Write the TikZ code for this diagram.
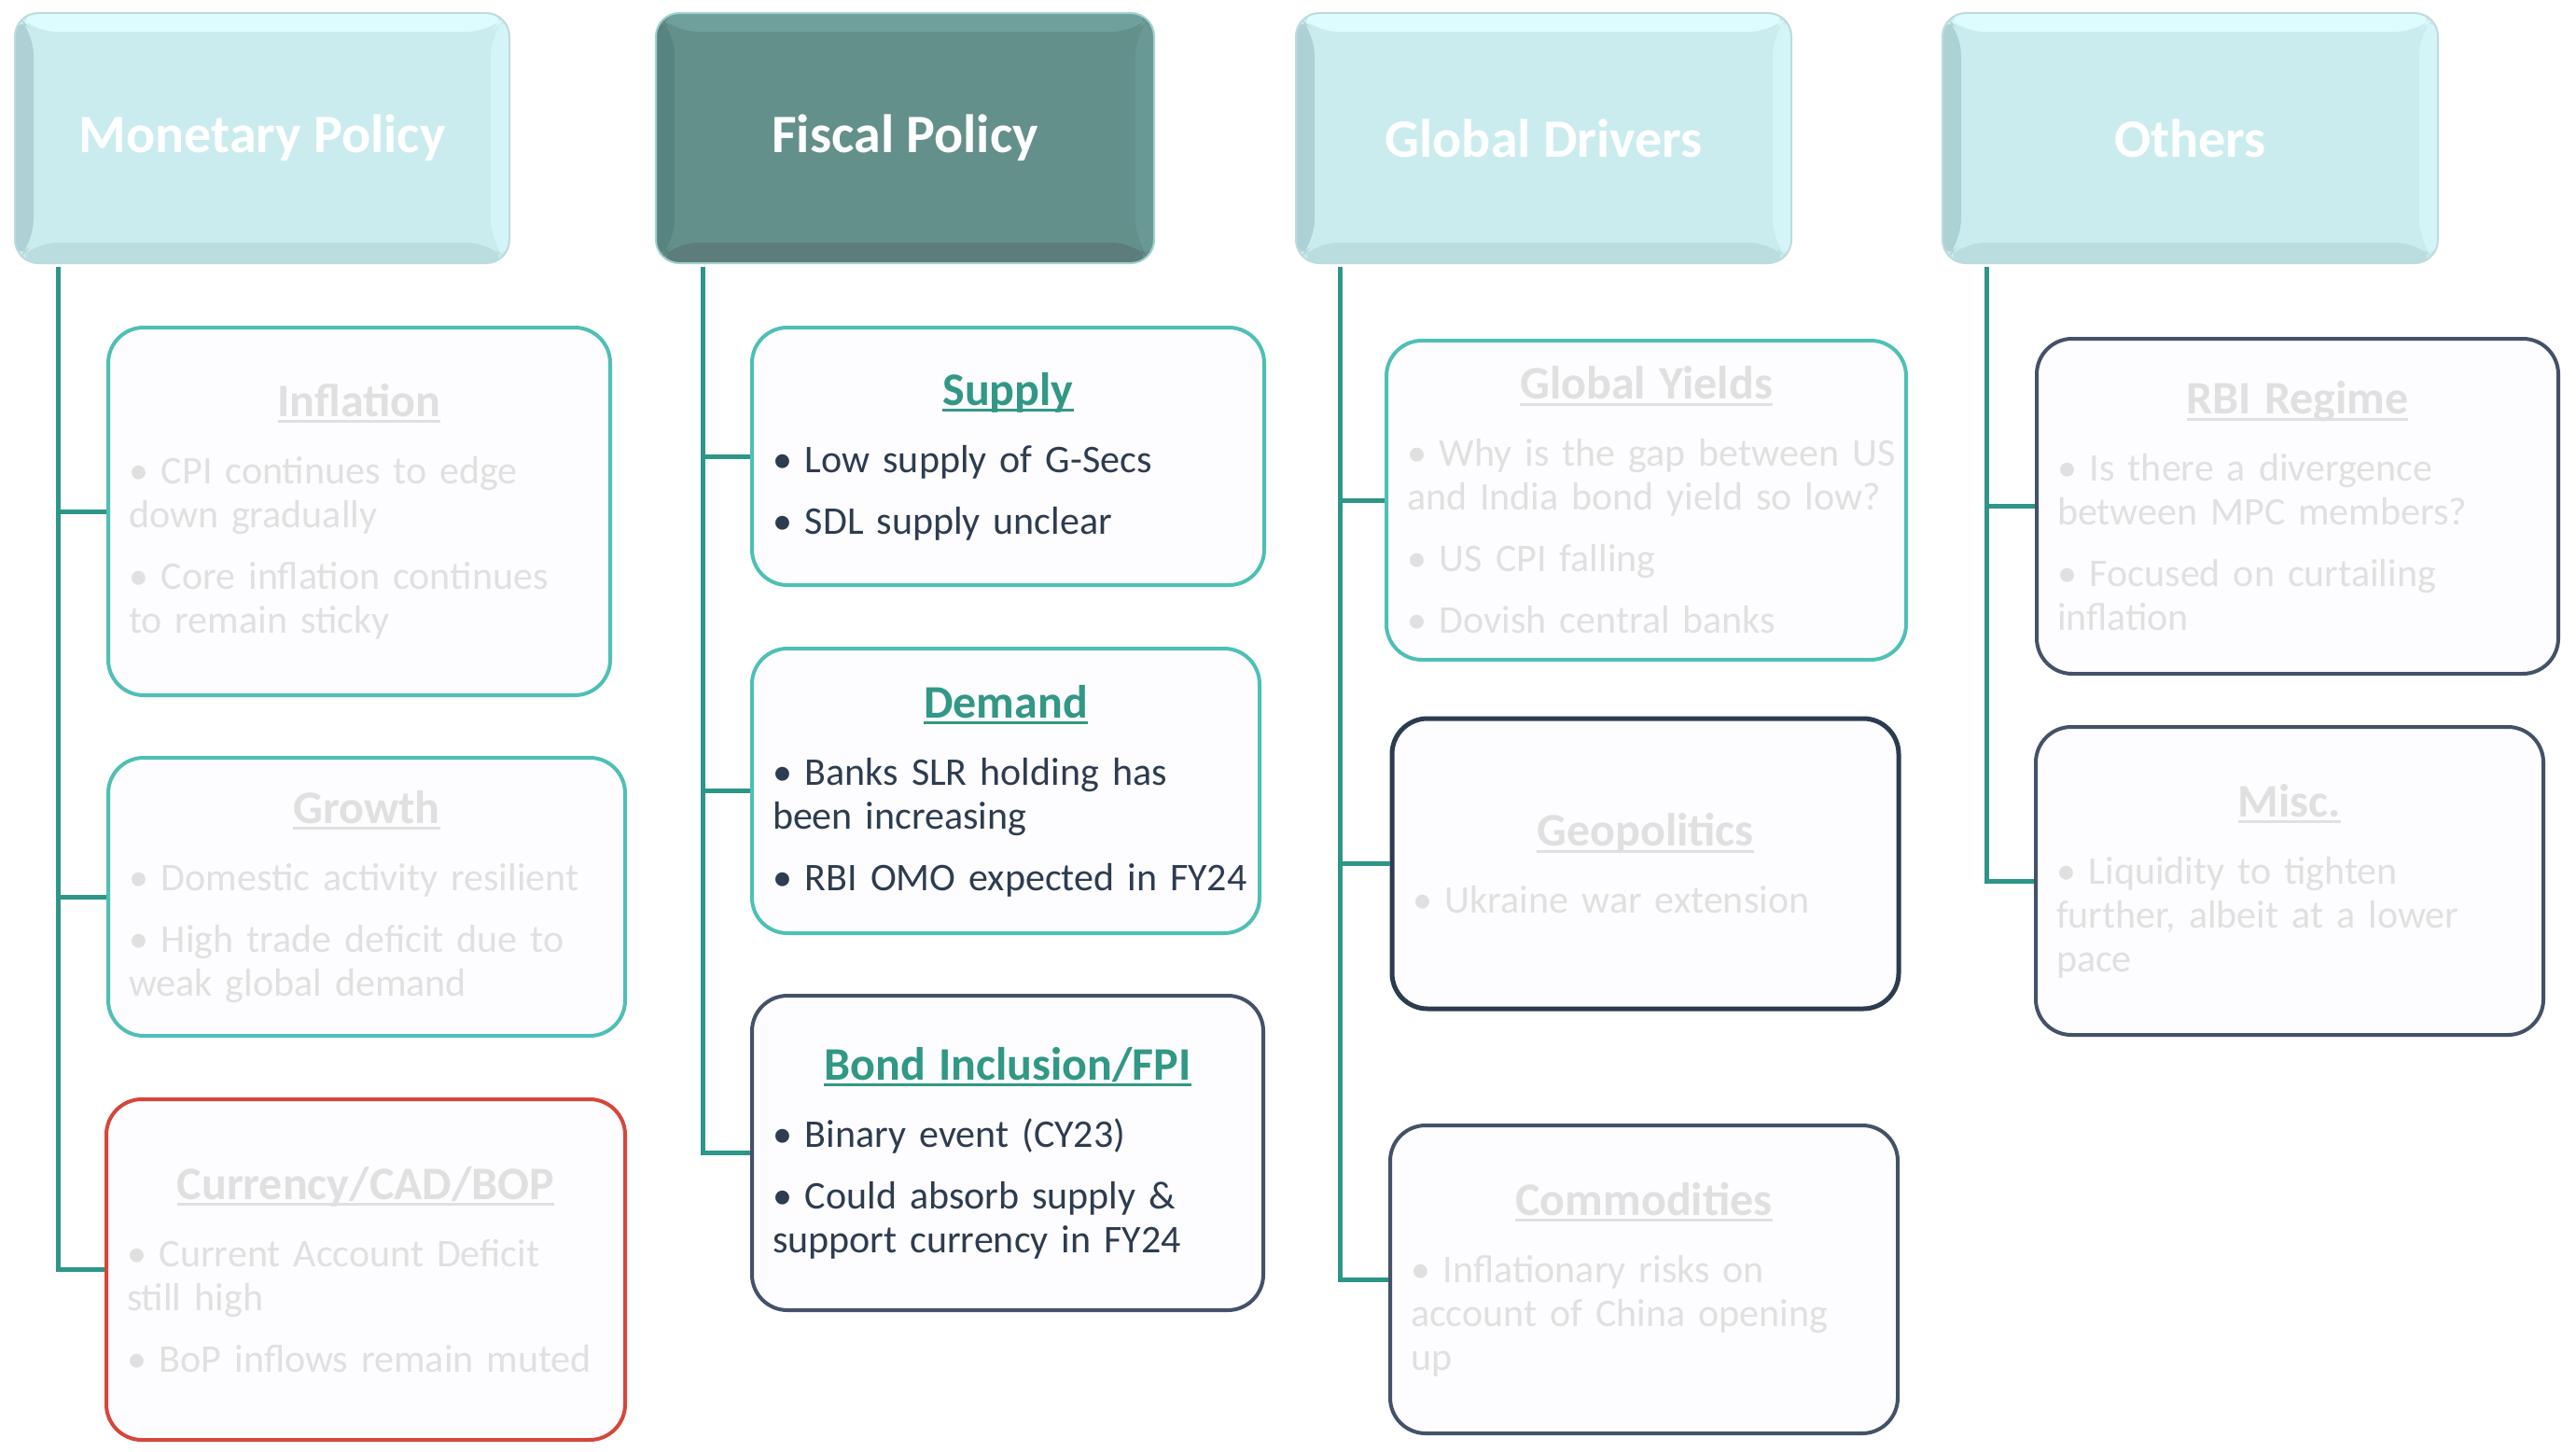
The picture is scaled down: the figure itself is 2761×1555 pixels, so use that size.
\documentclass[tikz,border=0pt]{standalone}
\usepackage{fontspec}
\setmainfont{Carlito}
\usetikzlibrary{calc}
\definecolor{connc}{RGB}{46,150,136}
\definecolor{tealb}{RGB}{78,192,182}
\definecolor{navyb}{RGB}{67,82,104}
\definecolor{darkb}{RGB}{44,60,80}
\definecolor{redb}{RGB}{214,70,58}
\definecolor{boxfill}{RGB}{253,252,254}
\definecolor{fade}{RGB}{224,224,224}
\definecolor{txt}{RGB}{45,60,80}
\definecolor{ttlg}{RGB}{50,152,134}
\definecolor{cyface}{RGB}{203,236,238}
\definecolor{cytop}{RGB}{220,252,254}
\definecolor{cyright}{RGB}{212,245,247}
\definecolor{cybot}{RGB}{186,222,224}
\definecolor{cyleft}{RGB}{172,210,213}
\definecolor{cyline}{RGB}{190,218,220}
\definecolor{fsface}{RGB}{100,144,140}
\definecolor{fstop}{RGB}{111,160,156}
\definecolor{fsright}{RGB}{106,153,149}
\definecolor{fsbot}{RGB}{93,125,122}
\definecolor{fsleft}{RGB}{88,132,128}
\definecolor{fsline}{RGB}{160,210,208}
\newcommand\ulx[1]{\setbox0=\hbox{#1}\rlap{\rule[-0.14em]{\wd0}{0.06em}}\box0}
\newcommand\ttl[2]{{\centering\fontsize{50}{47}\selectfont\bfseries\color{#1}\ulx{#2}\par}\vspace{25pt}}
\newcommand\gap{\par\vspace{19pt}}
\tikzset{
  conn/.style={draw=connc, line width=5pt},
  cbox/.style={draw=#1, line width=4pt, fill=boxfill, rounded corners=38pt,
    align=left, inner xsep=22pt, inner ysep=0pt,
    font=\fontsize{42}{47}\selectfont},
  faded/.style={text=fade},
  active/.style={text=txt},
  hdrbase/.style={rounded corners=25pt, minimum width=534pt, minimum height=268pt,
    text=white, font=\fontsize{58}{60}\selectfont\bfseries, line width=2pt},
  bevel/.style n args={4}{path picture={
    \fill[#1] (path picture bounding box.north west) -- (path picture bounding box.north east)
      -- ([shift={(-20pt,-20pt)}]path picture bounding box.north east)
      -- ([shift={(20pt,-20pt)}]path picture bounding box.north west) -- cycle;
    \fill[#2] (path picture bounding box.north east) -- (path picture bounding box.south east)
      -- ([shift={(-20pt,22pt)}]path picture bounding box.south east)
      -- ([shift={(-20pt,-20pt)}]path picture bounding box.north east) -- cycle;
    \fill[#3] (path picture bounding box.south west) -- (path picture bounding box.south east)
      -- ([shift={(-20pt,22pt)}]path picture bounding box.south east)
      -- ([shift={(20pt,22pt)}]path picture bounding box.south west) -- cycle;
    \fill[#4] (path picture bounding box.north west) -- (path picture bounding box.south west)
      -- ([shift={(20pt,22pt)}]path picture bounding box.south west)
      -- ([shift={(20pt,-20pt)}]path picture bounding box.north west) -- cycle;
  }},
  cyhdr/.style={hdrbase, fill=cyface, draw=cyline, bevel={cytop}{cyright}{cybot}{cyleft}},
  fshdr/.style={hdrbase, fill=fsface, draw=fsline, bevel={fstop}{fsright}{fsbot}{fsleft}},
}
\begin{document}
\begin{tikzpicture}[x=1pt,y=-1pt]
\useasboundingbox[fill=white] (0,0) rectangle (2761,1555);

% headers
\node[cyhdr, minimum width=530pt] (mon) at (281,148) {Monetary Policy};
\node[fshdr, minimum width=534pt] (fis) at (970,148) {Fiscal Policy};
\node[cyhdr, minimum width=531pt] (glo) at (1654.5,148) {Global Drivers};
\node[cyhdr, minimum width=531pt] (oth) at (2347.5,148) {Others};

% Monetary column
\node[cbox=tealb, faded, minimum width=538pt, minimum height=394pt, text width=494pt] (infl) at (385,548) {%
\ttl{fade}{Inflation}
\mbox{• CPI continues to edge}\\\mbox{down gradually}\gap
\mbox{• Core inflation continues}\\\mbox{to remain sticky}};
\node[cbox=tealb, faded, minimum width=554pt, minimum height=298pt, text width=510pt] (grow) at (393,961) {%
\ttl{fade}{Growth}
\mbox{• Domestic activity resilient}\gap
\mbox{• High trade deficit due to}\\\mbox{weak global demand}};
\node[cbox=redb, faded, minimum width=556pt, minimum height=365pt, text width=512pt] (curr) at (392,1360.5) {%
\ttl{fade}{Currency/CAD/BOP}
\mbox{• Current Account Deficit}\\\mbox{still high}\gap
\mbox{• BoP inflows remain muted}};

% Fiscal column
\node[cbox=tealb, active, minimum width=549pt, minimum height=276pt, text width=505pt] (supp) at (1080.5,489) {%
\ttl{ttlg}{Supply}
\mbox{• Low supply of G-Secs}\gap
\mbox{• SDL supply unclear}};
\node[cbox=tealb, active, minimum width=544pt, minimum height=305pt, text width=500pt] (dema) at (1078,847.5) {%
\ttl{ttlg}{Demand}
\mbox{• Banks SLR holding has}\\\mbox{been increasing}\gap
\mbox{• RBI OMO expected in FY24}};
\node[cbox=navyb, active, minimum width=548pt, minimum height=337pt, text width=504pt] (bond) at (1080,1235.5) {%
\ttl{ttlg}{Bond Inclusion/FPI}
\mbox{• Binary event (CY23)}\gap
\mbox{• Could absorb supply \&}\\\mbox{support currency in FY24}};

% Global column
\node[cbox=tealb, faded, minimum width=557pt, minimum height=342pt, text width=513pt] (gyld) at (1764.5,536) {%
\ttl{fade}{Global Yields}
\mbox{• Why is the gap between US}\\\mbox{and India bond yield so low?}\gap
\mbox{• US CPI falling}\gap
\mbox{• Dovish central banks}};
\node[cbox=darkb, faded, line width=5pt, minimum width=543pt, minimum height=311pt, text width=499pt] (geop) at (1763.5,925.5) {%
\ttl{fade}{Geopolitics}
\mbox{• Ukraine war extension}};
\node[cbox=navyb, faded, minimum width=544pt, minimum height=330pt, text width=500pt] (comm) at (1762,1371) {%
\ttl{fade}{Commodities}
\mbox{• Inflationary risks on}\\\mbox{account of China opening}\\\mbox{up}};

% Others column
\node[cbox=navyb, faded, minimum width=559pt, minimum height=359pt, text width=515pt] (rbir) at (2462.5,542.5) {%
\ttl{fade}{RBI Regime}
\mbox{• Is there a divergence}\\\mbox{between MPC members?}\gap
\mbox{• Focused on curtailing}\\\mbox{inflation}};
\node[cbox=navyb, faded, minimum width=544pt, minimum height=330pt, text width=500pt] (misc) at (2454,944) {%
\ttl{fade}{Misc.}
\mbox{• Liquidity to tighten}\\\mbox{further, albeit at a lower}\\\mbox{pace}};

% trunks and connectors
\coordinate (mt) at (62,286);
\coordinate (ft) at (753,286);
\coordinate (gt) at (1436,286);
\coordinate (ot) at (2129.5,286);
\draw[conn] (mt) |- (infl.west);
\draw[conn] (mt) |- (grow.west);
\draw[conn] (mt) |- (curr.west);
\draw[conn] (ft) |- (supp.west);
\draw[conn] (ft) |- (dema.west);
\draw[conn] (ft) |- (bond.west);
\draw[conn] (gt) |- (gyld.west);
\draw[conn] (gt) |- (geop.west);
\draw[conn] (gt) |- (comm.west);
\draw[conn] (ot) |- (rbir.west);
\draw[conn] (ot) |- (misc.west);
\end{tikzpicture}
\end{document}
